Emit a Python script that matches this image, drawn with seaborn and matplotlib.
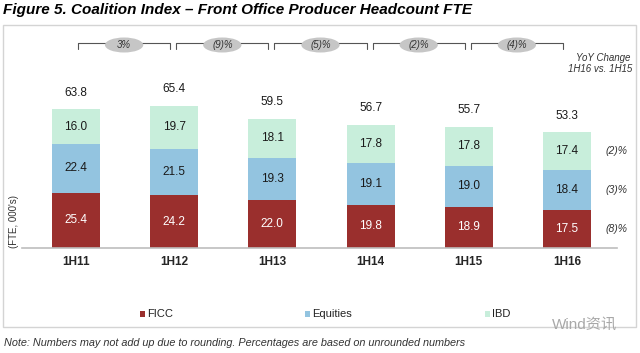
import matplotlib
matplotlib.use("Agg")
import matplotlib.pyplot as plt
import matplotlib.transforms as mtransforms
from matplotlib.patches import Ellipse, Rectangle
import pandas as pd
import seaborn as sns

periods = ["1H11", "1H12", "1H13", "1H14", "1H15", "1H16"]
ficc = [25.4, 24.2, 22.0, 19.8, 18.9, 17.5]
equities = [22.4, 21.5, 19.3, 19.1, 19.0, 18.4]
ibd = [16.0, 19.7, 18.1, 17.8, 17.8, 17.4]
totals = [63.8, 65.4, 59.5, 56.7, 55.7, 53.3]
yoy_labels = ["3%", "(9)%", "(5)%", "(2)%", "(4)%"]
seg_change = ["(8)%", "(3)%", "(2)%"]

C_FICC = "#9a2f2d"
C_EQ = "#93c4e0"
C_IBD = "#c8eedb"

df = pd.DataFrame({"period": periods, "FICC": ficc, "Equities": equities, "IBD": ibd})
df["eq_top"] = df["FICC"] + df["Equities"]
df["ibd_top"] = df["eq_top"] + df["IBD"]

sns.set_theme(style="white")
plt.rcParams["font.family"] = ["Liberation Sans", "Noto Sans CJK SC", "DejaVu Sans"]

W, H = 640, 353
fig = plt.figure(figsize=(6.4, 3.53), dpi=100)
ax = fig.add_axes([22 / W, 105 / H, 595 / W, 0.45])


def fy(py):
    return 1 - py / H


# stacked bars drawn as overlapping cumulative totals
for col, color in [("ibd_top", C_IBD), ("eq_top", C_EQ), ("FICC", C_FICC)]:
    sns.barplot(data=df, x="period", y=col, color=color, width=0.49,
                saturation=1, linewidth=0, ax=ax)

ax.set_xlim(-0.55, 5.51)
ax.set_ylim(0, 73)
ax.set_xlabel("")
ax.set_ylabel("")
ax.set_yticks([])
for s in ["top", "right", "left"]:
    ax.spines[s].set_visible(False)
ax.spines["bottom"].set_color("#bdbdbd")
ax.spines["bottom"].set_linewidth(1.2)
ax.tick_params(axis="x", length=0, pad=6)
for lab in ax.get_xticklabels():
    lab.set_fontweight("bold")
    lab.set_fontsize(8.5)

for i in range(len(periods)):
    f, e, b = ficc[i], equities[i], ibd[i]
    ax.text(i, f / 2, f"{f:.1f}", ha="center", va="center", color="white", fontsize=8.5)
    ax.text(i, f + e / 2, f"{e:.1f}", ha="center", va="center", color="#1a1a1a", fontsize=8.5)
    ax.text(i, f + e + b / 2, f"{b:.1f}", ha="center", va="center", color="#1a1a1a", fontsize=8.5)
    ax.text(i, f + e + b + 4.8, f"{totals[i]:.1f}", ha="center", va="bottom",
            color="#1a1a1a", fontsize=8.5)

# right-side segment changes
mids = [ficc[-1] / 2, ficc[-1] + equities[-1] / 2, ficc[-1] + equities[-1] + ibd[-1] / 2]
for m, t in zip(mids, seg_change):
    ax.text(5.5, m, t, ha="center", va="center", style="italic", fontsize=7.5,
            color="#333333", clip_on=False)

# frame
fig.patches.append(Rectangle((3 / W, fy(327)), 633 / W, 302 / H,
                             transform=fig.transFigure, fill=False,
                             edgecolor="#d4d4d4", linewidth=1.0))

# YoY brackets between consecutive bars
blend = mtransforms.blended_transform_factory(ax.transData, fig.transFigure)
for k, t in enumerate(yoy_labels):
    x0, x1 = k + 0.02, k + 0.96
    yb, yh = fy(43), fy(49)
    ax.add_line(plt.Line2D([x0, x0, x1, x1], [yh, yb, yb, yh], transform=blend,
                           color="#555555", linewidth=0.8, clip_on=False))
    xc = (x0 + x1) / 2
    ax.add_patch(Ellipse((xc, fy(45)), 0.39, 15 / H, transform=blend,
                         facecolor="#c6c6c6", edgecolor="none", clip_on=False, zorder=3))
    ax.text(xc, fy(45), t, transform=blend, ha="center", va="center", style="italic",
            fontsize=7, color="#333333", clip_on=False, zorder=4)

fig.text(630 / W, fy(58), "YoY Change", ha="right", va="center", style="italic",
         fontsize=7, color="#333333")
fig.text(632 / W, fy(69), "1H16 vs. 1H15", ha="right", va="center", style="italic",
         fontsize=7, color="#333333")

fig.text(14 / W, fy(222), "(FTE, 000's)", rotation=90, ha="center", va="center",
         fontsize=7, color="#333333")

# legend
for x, lab, c in [(140, "FICC", C_FICC), (305, "Equities", C_EQ), (485, "IBD", C_IBD)]:
    fig.patches.append(Rectangle((x / W, fy(317)), 5 / W, 6 / H,
                                 transform=fig.transFigure, facecolor=c, edgecolor="none"))
    fig.text((x + 7) / W, fy(314), lab, ha="left", va="center", fontsize=8,
             color="#222222")

fig.text(585 / W, fy(325), "Wind资讯", ha="center", va="center", fontsize=11,
         color="#a8a8a8")

fig.text(3 / W, fy(10), "Figure 5. Coalition Index \u2013 Front Office Producer Headcount FTE",
         ha="left", va="center", fontsize=11.0, fontweight="bold", style="italic", color="#000000")
fig.text(4 / W, fy(343),
         "Note: Numbers may not add up due to rounding. Percentages are based on unrounded numbers",
         ha="left", va="center", fontsize=7.8, style="italic", color="#333333")

fig.savefig("out.png", dpi=100)
